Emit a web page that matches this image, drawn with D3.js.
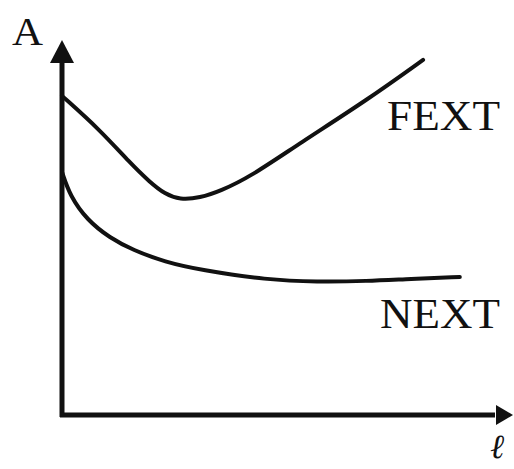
<!DOCTYPE html>
<html>
<head>
<meta charset="utf-8">
<script src="https://cdn.jsdelivr.net/npm/d3@7"></script>
<style>
  body { margin: 0; background: #fff; }
  svg { display: block; }
</style>
</head>
<body>
<script>
// curve values (arbitrary units, 0..100 on both axes)
const fextX = [0, 8.5, 15.2, 19.6, 23, 26.3, 30.8, 35.3, 42, 53.1, 68.1, 80.6]
const fextY = [85.1, 76, 67.2, 62.1, 58.9, 57.4, 57.9, 59.7, 63.5, 72.5, 84, 94.7]
const nextX = [0, 1.8, 5.6, 10.7, 15.8, 23, 30.8, 45.8, 56.9, 68.1, 77.7, 88.8]
const nextY = [64.8, 58.4, 52, 47.2, 44, 40.8, 38.7, 36, 35.5, 35.7, 36.3, 36.8]
const seriesNames = ["FEXT", "NEXT"]
const yLabel = "A"
const xLabel = "ℓ"

let w = 514
let h = 469

let svg = d3.select("body")
  .append("svg")
    .attr("width", w)
    .attr("height", h)

let x = d3.scaleLinear().domain([0, 100]).range([62, 510])
let y = d3.scaleLinear().domain([0, 100]).range([415, 40])

let ink = "#111"

// axes
let axes = svg.append("g")
  .attr("stroke", ink)
  .attr("stroke-width", 5)
  .attr("fill", "none")

axes.append("line")
  .attr("x1", x(0)).attr("y1", y(0) + 2)
  .attr("x2", x(0)).attr("y2", y(100) + 15)
axes.append("line")
  .attr("x1", x(0) - 2).attr("y1", y(0))
  .attr("x2", x(100) - 15).attr("y2", y(0))

// arrow heads
svg.append("path")
  .attr("d", `M${x(0)},${y(100)} L${x(0) - 12},${y(100) + 23} L${x(0) + 12},${y(100) + 23} Z`)
  .attr("fill", ink)
svg.append("path")
  .attr("d", `M${x(100) + 3},${y(0)} L${x(100) - 14},${y(0) - 10} L${x(100) - 14},${y(0) + 10} Z`)
  .attr("fill", ink)

// curves
let line = d3.line()
  .x(d => x(d[0]))
  .y(d => y(d[1]))
  .curve(d3.curveBasis)

let series = [
  d3.zip(fextX, fextY),
  d3.zip(nextX, nextY)
]

svg.append("g").selectAll("path")
  .data(series)
  .enter()
  .append("path")
    .attr("d", line)
    .attr("fill", "none")
    .attr("stroke", ink)
    .attr("stroke-width", 4)
    .attr("stroke-linecap", "round")

// labels
let serif = "'Liberation Serif', 'DejaVu Serif', serif"

svg.append("text")
  .text(seriesNames[0])
  .attr("x", 387).attr("y", 130)
  .attr("textLength", 113)
  .attr("lengthAdjust", "spacingAndGlyphs")
  .style("font", `42px ${serif}`)
  .attr("fill", ink)

svg.append("text")
  .text(seriesNames[1])
  .attr("x", 380).attr("y", 328)
  .attr("textLength", 120)
  .attr("lengthAdjust", "spacingAndGlyphs")
  .style("font", `42px ${serif}`)
  .attr("fill", ink)

svg.append("text")
  .text(yLabel)
  .attr("x", 12).attr("y", 45)
  .attr("textLength", 31)
  .attr("lengthAdjust", "spacingAndGlyphs")
  .style("font", `40px ${serif}`)
  .attr("fill", ink)

svg.append("text")
  .text(xLabel)
  .attr("x", 490).attr("y", 458)
  .style("font", `italic 34px ${serif}`)
  .attr("fill", ink)
</script>
</body>
</html>
